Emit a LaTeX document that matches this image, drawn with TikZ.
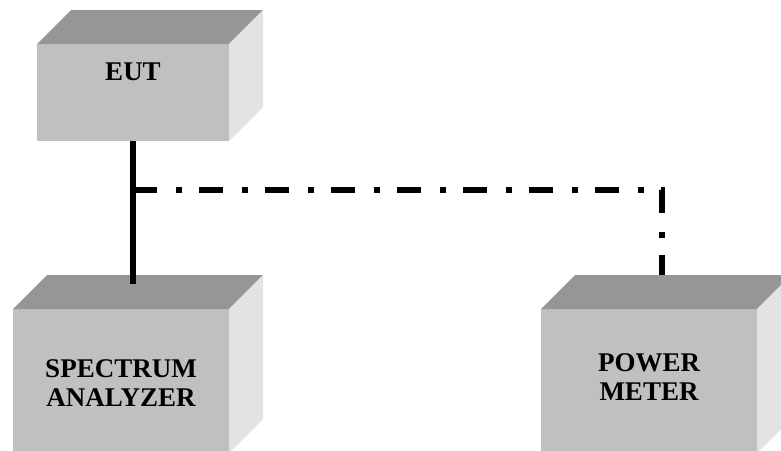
\documentclass[tikz,border=0pt]{standalone}
\usepackage{fontspec}
\setmainfont{Liberation Serif}
\definecolor{facefront}{RGB}{192,192,192}
\definecolor{facetop}{RGB}{150,150,150}
\definecolor{faceside}{RGB}{227,227,227}
\begin{document}
\begin{tikzpicture}[x=1pt,y=-1pt,
    unit/.style={fill=facefront, inner sep=0pt, outer sep=0pt},
    lbl/.style={font=\fontsize{27}{29}\selectfont\bfseries, align=center},
    link/.style={line width=5.5pt}]
    \useasboundingbox (0,0) rectangle (781,450);
    \clip (0,0) rectangle (781,450);

    % front faces
    \node[unit, minimum width=192pt, minimum height=97pt] (eut) at (133,92.5) {};
    \node[unit, minimum width=216pt, minimum height=144pt] (sa) at (121,381) {};
    \node[unit, minimum width=216pt, minimum height=144pt] (pm) at (649,381) {};

    % top and side faces
    \foreach \n in {eut,sa,pm} {
        \fill[facetop] (\n.north west) -- ([shift={(34,-34)}]\n.north west) -- ([shift={(34,-34)}]\n.north east) -- (\n.north east) -- cycle;
        \fill[faceside] (\n.north east) -- ([shift={(34,-34)}]\n.north east) -- ([shift={(34,-34)}]\n.south east) -- (\n.south east) -- cycle;
    }

    \node[lbl] (euttext) at (133,72) {EUT};
    \node[lbl] (satext) at (121,383) {SPECTRUM\\ANALYZER};
    \node[lbl] (pmtext) at (649,377) {POWER\\METER};

    \coordinate (tap) at (133,190);
    \coordinate (sain) at (133,284);
    \coordinate (pmin) at (662,275);
    \draw[link] (eut.south) -- (sain);
    \draw[link, dash pattern=on 24pt off 19pt on 5.5pt off 17.5pt] (tap) -| (pmin);
\end{tikzpicture}
\end{document}
